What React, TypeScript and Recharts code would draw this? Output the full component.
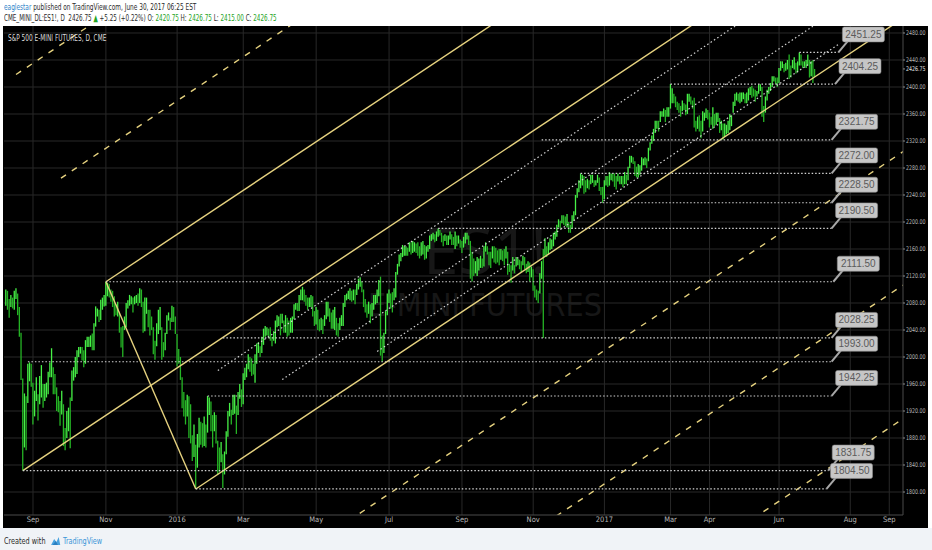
import React from "react";
import { ComposedChart, Bar, XAxis, YAxis, CartesianGrid, ReferenceLine } from "recharts";

const FONT = '"Liberation Sans Narrow", "DejaVu Sans Condensed", "Open Sans", sans-serif';
const LABEL_FONT = '"Liberation Sans", Arial, sans-serif';

// x = trading-day index, 0 = 1 Sep 2015
const tickIdx = [0, 43, 85, 124, 167, 210, 253, 295, 337, 376, 399, 440, 482, 505];
const tickText = ["Sep", "Nov", "2016", "Mar", "May", "Jul", "Sep", "Nov", "2017", "Mar", "Apr", "Jun", "Aug", "Sep"];
const priceTicks = [1800, 1840, 1880, 1920, 1960, 2000, 2040, 2080, 2120, 2160, 2200, 2240, 2280, 2320, 2360, 2400, 2440, 2480];
const lastClose = 2426.75;
const firstIdx = -16; // 10 Aug 2015

// daily [high, low]
const bars2015: [number, number][] = [
  // Aug
  [2100, 2076], [2098, 2070], [2086, 2058], [2092, 2074], [2088, 2072], [2098, 2070], [2102, 2086], [2094, 2062],
  [2074, 2030], [2036, 1966], [1968, 1831.75], [1946, 1866], [1942, 1862], [1990, 1932], [1992, 1964], [1990, 1956],
  // Sep
  [1962, 1900], [1950, 1912], [1970, 1935], [1945, 1906], [1972, 1930], [1988, 1940], [1960, 1925], [1960, 1935],
  [1962, 1940], [1978, 1945], [1992, 1970], [2013, 1970], [1985, 1945], [1975, 1945], [1955, 1920], [1942, 1918],
  [1935, 1898], [1950, 1915], [1930, 1868], [1895, 1862], [1920, 1880],
  // Oct
  [1925, 1890], [1940, 1865], [1980, 1935], [1985, 1965], [2000, 1970], [2010, 1975], [2015, 2000], [2015, 2005],
  [2015, 1995], [2010, 1985], [2025, 1990], [2030, 2015], [2030, 2015], [2032, 2015], [2035, 2010], [2050, 2010],
  [2075, 2045], [2072, 2060], [2070, 2052], [2085, 2055], [2088, 2070], [2092, 2075],
  // Nov
  [2111.5, 2076], [2110, 2090], [2108, 2088], [2100, 2082], [2098, 2074], [2090, 2060], [2078, 2062], [2082, 2060],
  [2066, 2036], [2044, 2014], [2046, 2000], [2060, 2040], [2080, 2044], [2084, 2072], [2092, 2076], [2090, 2078],
  [2088, 2066], [2090, 2078], [2092, 2080], [2094, 2076],
  // Dec
  [2102, 2080], [2100, 2074], [2082, 2036], [2088, 2038], [2088, 2064], [2070, 2044], [2070, 2032], [2060, 2040],
  [2044, 2004], [2024, 1996], [2050, 2016], [2070, 2034], [2074, 2040], [2044, 1996], [2022, 2000], [2036, 2010],
  [2062, 2034], [2066, 2054], [2058, 2040], [2076, 2052], [2074, 2052], [2060, 2034],
];

const bars2016a: [number, number][] = [
  // Jan
  [2034, 1986], [2012, 1990], [2000, 1966], [1970, 1924], [1948, 1912], [1936, 1900], [1944, 1912], [1942, 1880],
  [1930, 1872], [1884, 1846], [1900, 1852], [1870, 1804.5], [1886, 1836], [1910, 1866], [1904, 1870], [1902, 1866],
  [1912, 1868], [1900, 1866], [1942.25, 1888],
  // Feb
  [1940, 1914], [1934, 1890], [1914, 1866], [1918, 1890], [1914, 1872], [1876, 1826], [1866, 1830], [1874, 1844],
  [1856, 1806], [1860, 1826], [1890, 1856], [1920, 1882], [1932, 1912], [1922, 1900], [1944, 1914], [1944, 1916],
  [1928, 1886], [1948, 1914], [1960, 1938], [1952, 1926],
  // Mar
  [1976, 1930], [1984, 1966], [1990, 1970], [2004, 1982], [2000, 1978], [1998, 1972], [1990, 1974], [2004, 1962],
  [2020, 1990], [2022, 2006], [2016, 2000], [2030, 2006], [2042, 2018], [2046, 2030], [2044, 2032], [2042, 2028],
  [2044, 2024], [2030, 2016], [2038, 2024], [2054, 2020], [2062, 2044], [2060, 2046],
  // Apr
  [2064, 2032], [2064, 2050], [2054, 2036], [2062, 2036], [2058, 2030], [2054, 2032], [2058, 2036], [2060, 2036],
  [2078, 2056], [2080, 2070], [2080, 2068], [2092, 2068], [2100, 2084], [2104, 2084], [2100, 2082], [2092, 2076],
  [2088, 2070], [2088, 2074], [2092, 2074], [2090, 2060], [2068, 2046],
  // May
  [2074, 2048], [2070, 2040], [2056, 2038], [2058, 2040], [2056, 2034], [2062, 2046], [2082, 2056], [2082, 2060],
  [2072, 2052], [2066, 2042], [2070, 2042], [2074, 2040], [2058, 2032], [2050, 2030], [2058, 2040], [2062, 2046],
  [2080, 2046], [2092, 2074], [2094, 2084], [2098, 2086], [2102, 2084],
  // Jun
  [2098, 2082], [2100, 2084], [2100, 2078], [2108, 2092], [2116, 2100], [2118, 2104], [2112, 2096], [2100, 2074],
  [2086, 2066], [2078, 2058], [2082, 2064], [2078, 2050], [2080, 2060], [2092, 2070], [2092, 2078], [2100, 2080],
  [2114, 2090], [2119, 2002], [2032, 1993], [2036, 2006], [2068, 2034], [2094, 2062],
];

const bars2016b: [number, number][] = [
  // Jul
  [2100, 2080], [2094, 2072], [2096, 2066], [2102, 2084], [2126, 2088], [2138, 2122], [2152, 2134], [2154, 2142],
  [2166, 2148], [2164, 2150], [2164, 2150], [2162, 2150], [2170, 2156], [2170, 2152], [2172, 2154], [2170, 2156],
  [2168, 2154], [2170, 2150], [2164, 2146], [2170, 2150],
  // Aug
  [2172, 2152], [2166, 2144], [2164, 2146], [2166, 2156], [2180, 2160], [2182, 2172], [2184, 2174], [2182, 2170],
  [2186, 2172], [2190.5, 2178], [2188, 2180], [2184, 2170], [2180, 2164], [2182, 2172], [2180, 2166], [2180, 2166],
  [2186, 2174], [2182, 2166], [2178, 2166], [2186, 2160], [2180, 2164], [2180, 2168], [2174, 2162],
  // Sep
  [2172, 2154], [2178, 2162], [2184, 2168], [2184, 2174], [2180, 2166], [2172, 2116], [2156, 2112], [2146, 2120],
  [2142, 2124], [2148, 2120], [2146, 2128], [2150, 2132], [2146, 2132], [2164, 2134], [2170, 2156], [2164, 2152],
  [2156, 2136], [2156, 2132], [2164, 2146], [2164, 2140], [2162, 2138],
  // Oct
  [2158, 2140], [2160, 2136], [2160, 2144], [2158, 2142], [2160, 2136], [2164, 2146], [2156, 2122], [2138, 2126],
  [2136, 2110], [2148, 2128], [2136, 2124], [2148, 2134], [2146, 2136], [2144, 2130], [2142, 2126], [2150, 2136],
  [2148, 2130], [2138, 2124], [2142, 2126], [2140, 2112], [2134, 2118],
  // Nov
  [2130, 2098], [2106, 2088], [2100, 2084], [2098, 2080], [2124, 2094], [2142, 2116], [2160, 2028.25], [2176, 2150],
  [2164, 2148], [2170, 2152], [2176, 2158], [2174, 2160], [2184, 2164], [2186, 2174], [2196, 2178], [2204, 2192],
  [2202, 2190], [2210, 2198], [2210, 2196], [2208, 2194], [2212, 2192],
  // Dec
  [2200, 2184], [2196, 2184], [2210, 2190], [2216, 2202], [2240, 2210], [2250, 2236], [2262, 2244], [2272, 2250],
  [2270, 2254], [2268, 2242], [2262, 2244], [2264, 2250], [2262, 2248], [2270, 2256], [2270, 2258], [2262, 2252],
  [2262, 2254], [2270, 2258], [2266, 2246], [2252, 2240], [2252, 2228.5],
];

const bars2017: [number, number][] = [
  // Jan
  [2262, 2234], [2268, 2254], [2268, 2252], [2274, 2254], [2272, 2262], [2272, 2260], [2272, 2252], [2268, 2248],
  [2272, 2260], [2268, 2256], [2268, 2256], [2268, 2252], [2274, 2256], [2270, 2256], [2282, 2262], [2298, 2280],
  [2298, 2288], [2296, 2286], [2290, 2268], [2282, 2266],
  // Feb
  [2286, 2266], [2284, 2270], [2296, 2276], [2294, 2284], [2296, 2284], [2294, 2280], [2310, 2290], [2318, 2306],
  [2328, 2316], [2338, 2320], [2350, 2332], [2350, 2338], [2350, 2334], [2364, 2348], [2364, 2356], [2368, 2356],
  [2366, 2348], [2370, 2356], [2370, 2356],
  // Mar
  [2404.25, 2368], [2398, 2376], [2390, 2376], [2386, 2370], [2378, 2366], [2376, 2362], [2372, 2356], [2380, 2364],
  [2376, 2366], [2374, 2358], [2390, 2360], [2390, 2378], [2386, 2374], [2380, 2368], [2384, 2340], [2350, 2334],
  [2356, 2338], [2358, 2334], [2350, 2324], [2364, 2334], [2362, 2350], [2368, 2354], [2366, 2352],
  // Apr
  [2362, 2340], [2356, 2344], [2370, 2338], [2360, 2342], [2362, 2344], [2362, 2348], [2354, 2332], [2350, 2336],
  [2346, 2321.75], [2346, 2326], [2344, 2330], [2350, 2332], [2360, 2336], [2358, 2342], [2378, 2362], [2390, 2372],
  [2392, 2380], [2390, 2378], [2392, 2376],
  // May
  [2392, 2378], [2392, 2382], [2390, 2376], [2392, 2376], [2398, 2380], [2400, 2388], [2402, 2384], [2398, 2386],
  [2396, 2378], [2394, 2386], [2404, 2390], [2404, 2394], [2400, 2356], [2372, 2348], [2386, 2362], [2396, 2380],
  [2400, 2390], [2406, 2394], [2416, 2400], [2416, 2408], [2414, 2404], [2414, 2400],
  // Jun
  [2428, 2406], [2438, 2424], [2438, 2428], [2434, 2422], [2436, 2424], [2440, 2426], [2448, 2412], [2432, 2414],
  [2440, 2428], [2444, 2426], [2436, 2420], [2438, 2422], [2451.25, 2432], [2448, 2432], [2438, 2428], [2438, 2430],
  [2440, 2428], [2448, 2432], [2440, 2414], [2438, 2416], [2440, 2406], [2426.75, 2415],
];

// pitchfork pivots (bar index, price)
const pivotA = { i: -6, p: 1831.75 };
const pivotB = { i: 43, p: 2111.5 };
const pivotC = { i: 96, p: 1804.5 };
const forkLevels = [-3, -2, 2, 3, 4];

// dotted parallel lines: price offset from the median line
const channels = [
  { off: -44, from: 109, to: 530 },
  { off: -121, from: 147, to: 530 },
  { off: -173, from: 203, to: 476 },
];

// horizontal levels with callouts
const levels = [
  { p: 2451.25, from: 452, to: 475 },
  { p: 2404.25, from: 376, to: 473 },
  { p: 2321.75, from: 300, to: 471 },
  { p: 2272.0, from: 323, to: 471 },
  { p: 2228.5, from: 336, to: 471 },
  { p: 2190.5, from: 239, to: 471 },
  { p: 2111.5, from: 43, to: 472 },
  { p: 2028.25, from: 112, to: 471 },
  { p: 1993.0, from: -3, to: 471 },
  { p: 1942.25, from: 103, to: 471 },
  { p: 1831.75, from: -6, to: 469 },
  { p: 1804.5, from: 96, to: 468 },
];

const allBars = [...bars2015, ...bars2016a, ...bars2016b, ...bars2017];
const data = allBars.map(([h, l], n) => {
  const prev = allBars[n - 1];
  return { i: firstIdx + n, range: [l, h], up: !prev || h + l >= prev[0] + prev[1] };
});

const YEL = "#e6d27f";
const END = 530;
const mid = { i: (pivotB.i + pivotC.i) / 2, p: (pivotB.p + pivotC.p) / 2 };
const slope = (mid.p - pivotA.p) / (mid.i - pivotA.i);
const median = (i: number) => pivotA.p + slope * (i - pivotA.i);
const ray = (i0: number, p0: number, i1: number) => [
  { x: i0, y: p0 },
  { x: i1, y: p0 + slope * (i1 - i0) },
];

const Stick = (props: any) => {
  const { x, y, width, height, payload } = props;
  if (x == null || height == null) return null;
  const cx = x + width / 2;
  return (
    <line x1={cx} x2={cx} y1={y} y2={y + height} stroke={payload.up ? "#46f046" : "#25b525"} strokeWidth={1.3} />
  );
};

const Callout = (props: any) => {
  const { viewBox, text } = props;
  if (!viewBox) return null;
  const ex = viewBox.x + viewBox.width;
  const ly = viewBox.y;
  return (
    <g>
      <line x1={ex} y1={ly} x2={ex + 10} y2={ly - 12} stroke="#a8a8a8" strokeWidth={2} />
      <rect x={ex + 4} y={ly - 25.5} width={42} height={15} rx={2} fill="#c6c6c6" stroke="#8c8c8c" strokeWidth={0.6} />
      <text x={ex + 25} y={ly - 14.5} textAnchor="middle" fontSize={10} fill="#5b5b5b" fontFamily={LABEL_FONT}>
        {text}
      </text>
    </g>
  );
};

const PriceTick = (props: any) => {
  const { x, y, payload } = props;
  const cur = payload.value === lastClose;
  return (
    <text
      x={x}
      y={y}
      dy={2.4}
      fontSize={6.5}
      textLength={19.5}
      lengthAdjust="spacingAndGlyphs"
      fill={cur ? "#e2e2e2" : "#b8b8b8"}
      fontFamily={FONT}
    >
      {Number(payload.value).toFixed(2)}
    </text>
  );
};

const green = { color: "#23a323" };
const narrow = (s: number): React.CSSProperties => ({
  transform: `scaleX(${s})`,
  transformOrigin: "0 0",
  whiteSpace: "nowrap",
});

export default function App() {
  return (
    <div
      style={{
        position: "absolute",
        left: 0,
        top: 0,
        width: 932,
        height: 550,
        background: "#ffffff",
        overflow: "hidden",
        fontFamily: FONT,
      }}
    >
      <div style={{ position: "absolute", left: 4, top: 1, fontSize: 9.5, color: "#2a2a2a", ...narrow(0.68) }}>
        <span style={{ color: "#2f83c9" }}>eaglestar</span> published on TradingView.com, June 30, 2017 06:25 EST
      </div>
      <div style={{ position: "absolute", left: 4, top: 12, fontSize: 9.5, color: "#2a2a2a", ...narrow(0.66) }}>
        CME_MINI_DL:ES1!, D&nbsp; 2426.75 <span style={green}>▲</span> +5.25 (+0.22%) O: <span style={green}>2420.75</span> H:{" "}
        <span style={green}>2426.75</span> L: <span style={green}>2415.00</span> C: <span style={green}>2426.75</span>
      </div>

      <div style={{ position: "absolute", left: 3, top: 26, width: 925, height: 502, background: "#000" }} />
      <div
        style={{
          position: "absolute",
          left: 285,
          width: 400,
          top: 222,
          textAlign: "center",
          fontSize: 64,
          lineHeight: "56px",
          color: "#171717",
          fontFamily: '"Open Sans", sans-serif',
        }}
      >
        ES1!
      </div>
      <div
        style={{
          position: "absolute",
          left: 285,
          width: 400,
          top: 288,
          textAlign: "center",
          fontSize: 32,
          lineHeight: "34px",
          color: "#171717",
          fontFamily: FONT,
        }}
      >
        E-MINI FUTURES
      </div>

      <div style={{ position: "absolute", left: 4, top: 26 }}>
        <ComposedChart width={928} height={502} data={data} margin={{ top: 0, right: 4, bottom: 0, left: 0 }}>
          <CartesianGrid stroke="#282828" horizontalValues={priceTicks} verticalValues={tickIdx} />
          <XAxis
            dataKey="i"
            type="number"
            domain={[-17.1, 513.1]}
            ticks={tickIdx}
            interval={0}
            allowDataOverflow
            height={13}
            tickSize={2}
            tickMargin={0}
            tickLine={false}
            axisLine={{ stroke: "#4a4a4a" }}
            tick={{ fill: "#b5b5b5", fontSize: 7.5, fontFamily: FONT }}
            tickFormatter={(v: number) => tickText[tickIdx.indexOf(v)]}
          />
          <YAxis
            orientation="right"
            domain={[1765.93, 2490.37]}
            ticks={[...priceTicks, lastClose]}
            interval={0}
            allowDataOverflow
            width={25}
            tickSize={2}
            tickMargin={1}
            tickLine={{ stroke: "#8a8a8a" }}
            axisLine={{ stroke: "#4a4a4a" }}
            tick={<PriceTick />}
          />
          <Bar dataKey="range" barSize={2} shape={<Stick />} isAnimationActive={false} />

          {/* pitchfork */}
          <ReferenceLine segment={ray(pivotA.i, pivotA.p, END)} stroke={YEL} strokeWidth={1.4} ifOverflow="hidden" />
          <ReferenceLine segment={ray(pivotB.i, pivotB.p, END)} stroke={YEL} strokeWidth={1.4} ifOverflow="hidden" />
          <ReferenceLine segment={ray(pivotC.i, pivotC.p, END)} stroke={YEL} strokeWidth={1.4} ifOverflow="hidden" />
          <ReferenceLine
            segment={[
              { x: pivotB.i, y: pivotB.p },
              { x: pivotC.i, y: pivotC.p },
            ]}
            stroke={YEL}
            strokeWidth={1.4}
            ifOverflow="hidden"
          />
          {forkLevels.map((k) => (
            <ReferenceLine
              key={"k" + k}
              segment={ray(mid.i + k * (pivotC.i - mid.i), mid.p + k * (pivotC.p - mid.p), END)}
              stroke={YEL}
              strokeWidth={1.4}
              strokeDasharray="6 7"
              ifOverflow="hidden"
            />
          ))}

          {channels.map((c, n) => (
            <ReferenceLine
              key={"c" + n}
              segment={ray(c.from, median(c.from) + c.off, c.to)}
              stroke="#d4d4d4"
              strokeWidth={1.2}
              strokeDasharray="1.5 2.5"
              ifOverflow="hidden"
            />
          ))}

          {levels.map((l) => (
            <ReferenceLine
              key={"l" + l.p}
              segment={[
                { x: l.from, y: l.p },
                { x: l.to, y: l.p },
              ]}
              stroke="#d4d4d4"
              strokeWidth={1.2}
              strokeDasharray="1.5 2"
              ifOverflow="visible"
              label={<Callout text={l.p.toFixed(2)} />}
            />
          ))}
        </ComposedChart>
      </div>
      <div style={{ position: "absolute", left: 8, top: 33, fontSize: 8.5, color: "#dcdcdc", ...narrow(0.76) }}>
        S&amp;P 500 E-MINI FUTURES, D, CME
      </div>

      <div style={{ position: "absolute", left: 0, top: 528, width: 932, height: 22, background: "#f0f3f7" }} />
      <div
        style={{
          position: "absolute",
          left: 4,
          top: 535,
          fontSize: 9.5,
          color: "#2a2a2a",
          display: "flex",
          alignItems: "center",
          ...narrow(0.76),
        }}
      >
        <span>Created with</span>
        <svg width={14} height={10} style={{ margin: "0 3px 0 6px" }}>
          <path d="M1 9 L5 3 L8 6 L11 1 L13 9 Z" fill="#4aa3df" />
          <path d="M3 9 L7 5 L10 9 Z" fill="#2b7fc0" />
        </svg>
        <span style={{ color: "#3b95d8" }}>TradingView</span>
      </div>
    </div>
  );
}
